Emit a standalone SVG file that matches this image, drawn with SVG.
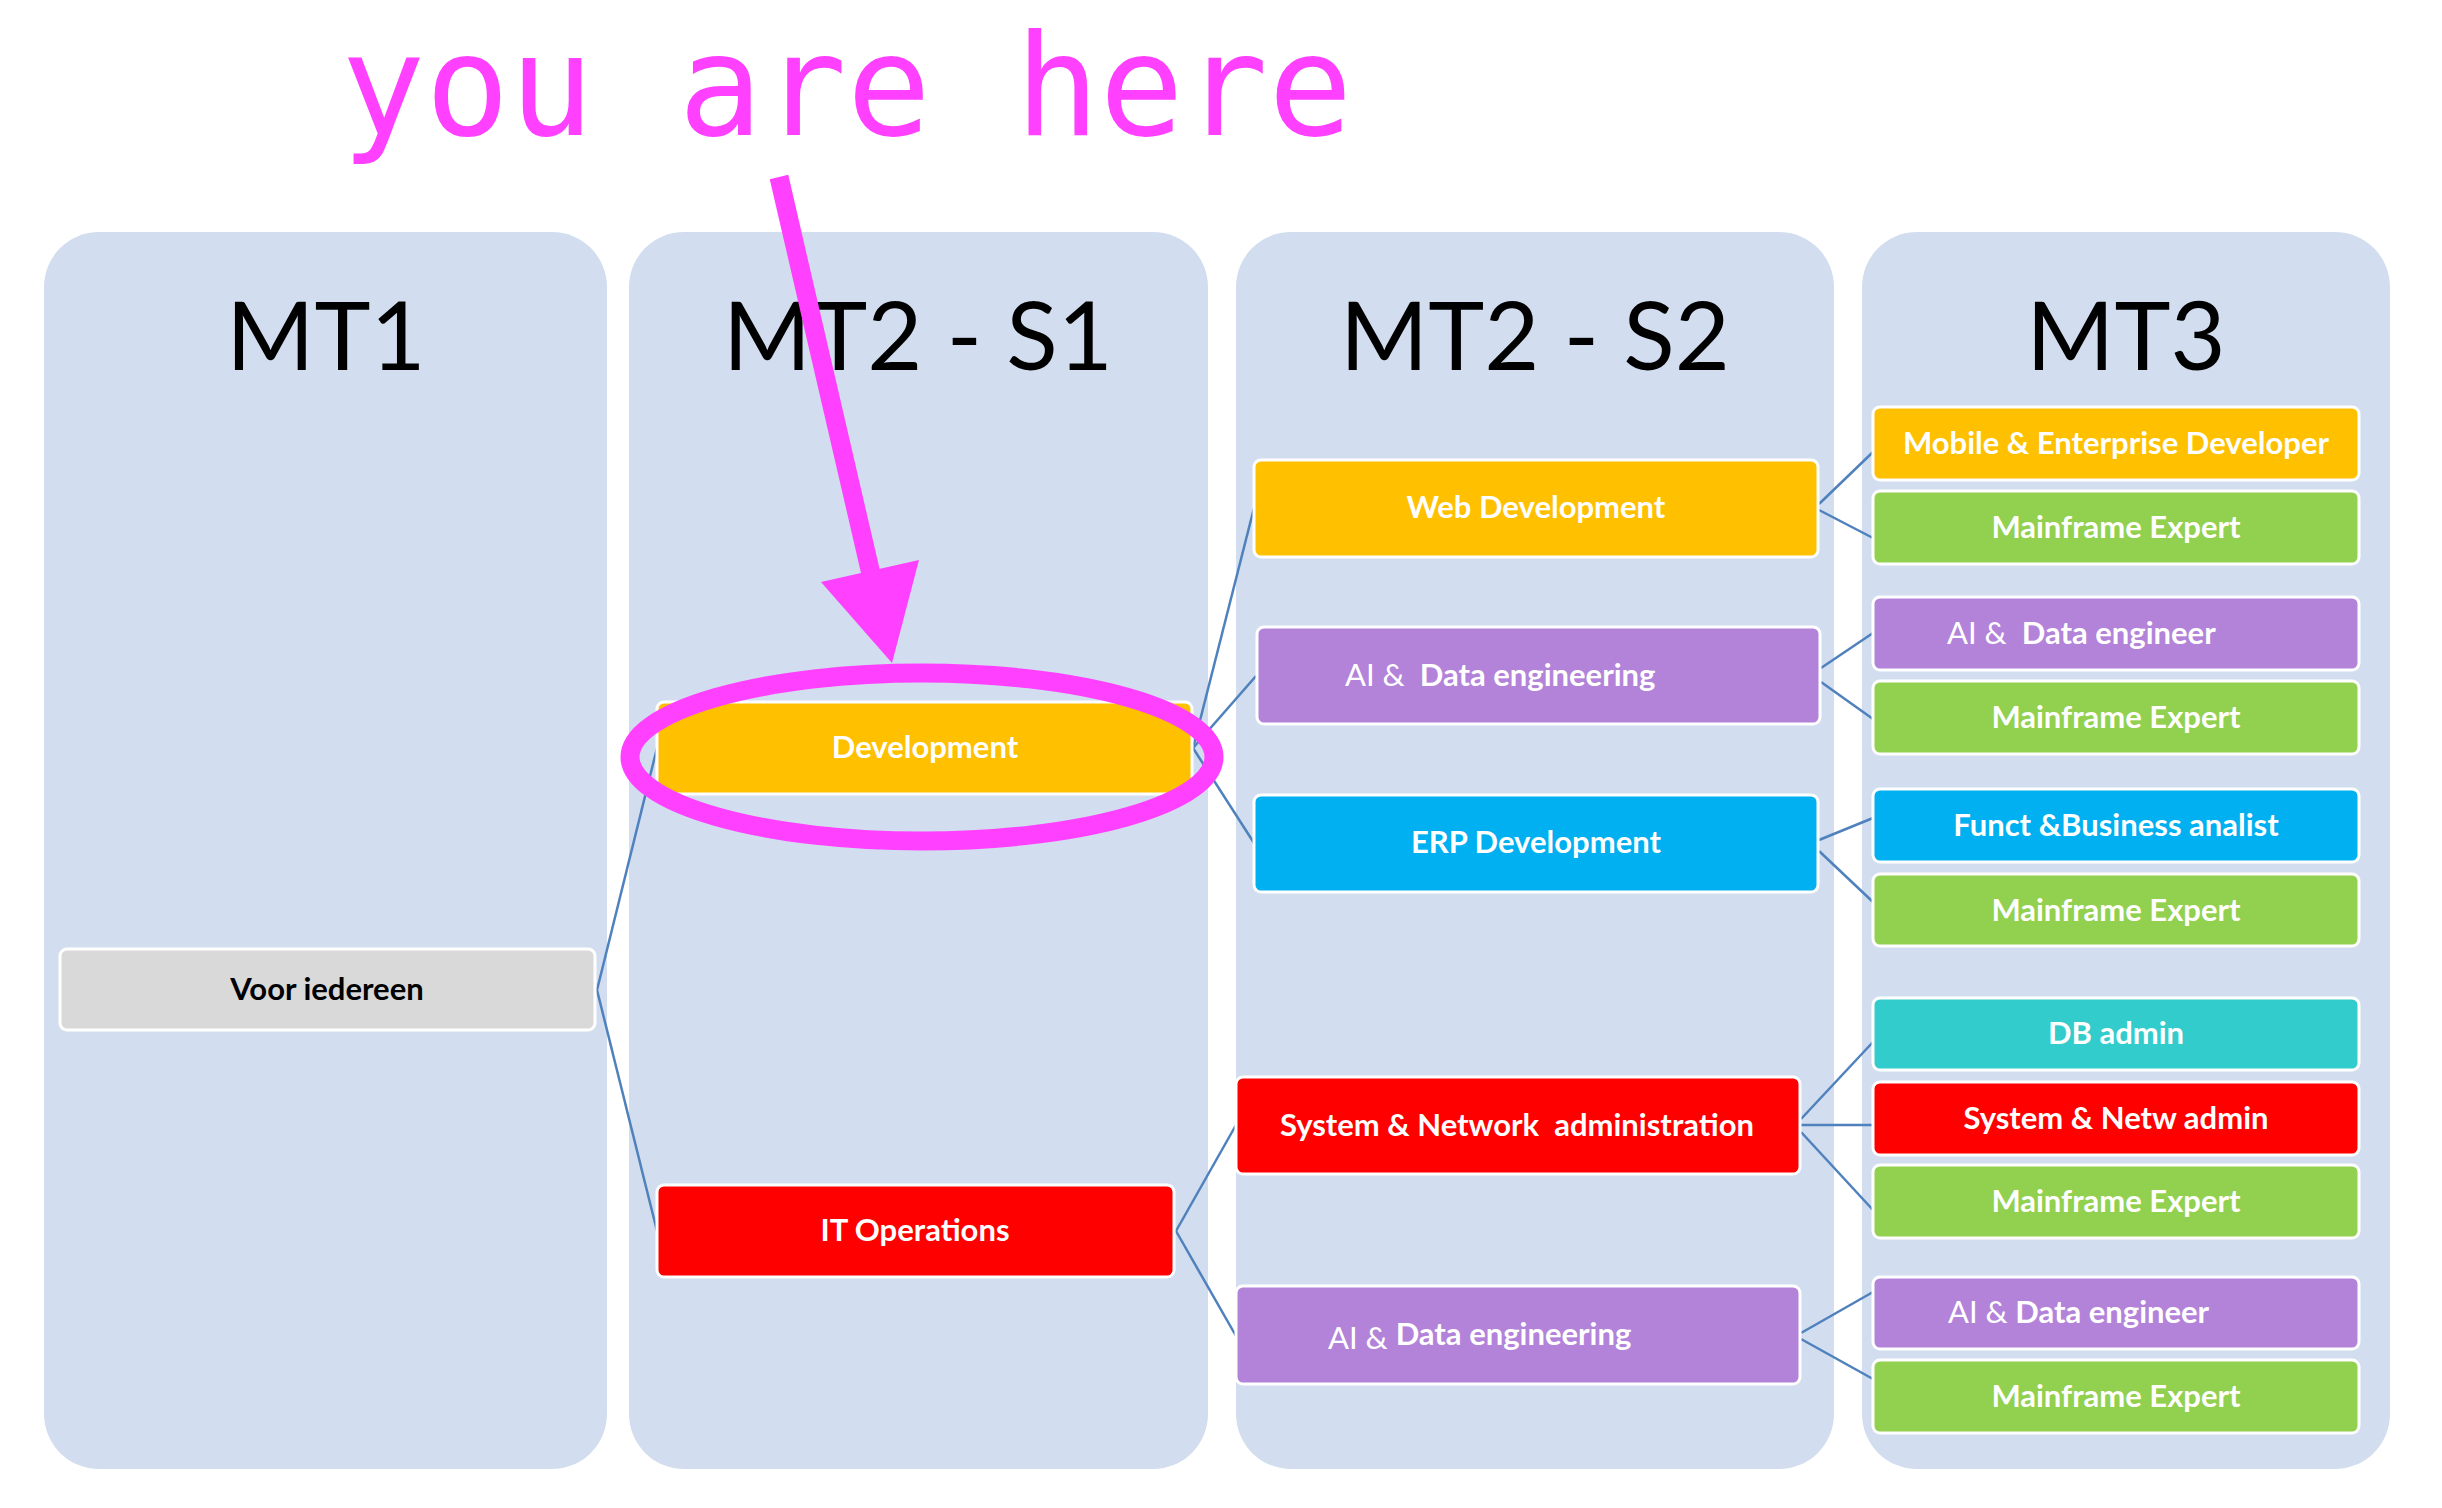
<svg xmlns="http://www.w3.org/2000/svg" width="2442" height="1508" viewBox="0 0 2442 1508">
<style>
.col{fill:#D2DEEF}
.hdr{font-family:Lato,"Liberation Sans",sans-serif;font-size:95px;fill:#000;text-anchor:middle}
.n{stroke:#FFFFFF;stroke-width:3}
.t{font-family:Lato,"Liberation Sans",sans-serif;font-size:31px;font-weight:bold;fill:#FFFFFF;text-anchor:middle;white-space:pre}
.ts{font-family:Lato,"Liberation Sans",sans-serif;font-size:31px;font-weight:bold;fill:#FFFFFF;white-space:pre}
.reg{font-weight:normal}
.c line{stroke:#4F81BD;stroke-width:2.5}
.or{fill:#FFC000}.pu{fill:#B383DA}.gr{fill:#92D050}.bl{fill:#00B0F0}.rd{fill:#FF0000}.te{fill:#33CCCC}.gy{fill:#D9D9D9}
</style>
<g id="columns">
<rect class="col" x="44" y="232" width="563" height="1237" rx="55"/>
<rect class="col" x="629" y="232" width="579" height="1237" rx="55"/>
<rect class="col" x="1236" y="232" width="598" height="1237" rx="55"/>
<rect class="col" x="1862" y="232" width="528" height="1237" rx="55"/>
<text class="hdr" x="326" y="370">MT1</text>
<text class="hdr" x="918" y="370">MT2 - S1</text>
<text class="hdr" x="1535" y="370">MT2 - S2</text>
<text class="hdr" x="2126" y="370">MT3</text>
</g>
<g id="connectors" class="c">
<line x1="597" y1="990" x2="657" y2="748"/>
<line x1="597" y1="990" x2="657" y2="1231"/>
<line x1="1193" y1="748" x2="1254" y2="508"/>
<line x1="1193" y1="748" x2="1256" y2="676"/>
<line x1="1193" y1="748" x2="1254" y2="843"/>
<line x1="1819" y1="504" x2="1873" y2="452"/>
<line x1="1819" y1="510" x2="1873" y2="538"/>
<line x1="1821" y1="668" x2="1873" y2="633"/>
<line x1="1821" y1="682" x2="1873" y2="719"/>
<line x1="1819" y1="840" x2="1873" y2="818"/>
<line x1="1819" y1="851" x2="1873" y2="902"/>
<line x1="1176" y1="1231" x2="1236" y2="1125"/>
<line x1="1176" y1="1231" x2="1236" y2="1336"/>
<line x1="1801" y1="1119" x2="1873" y2="1042"/>
<line x1="1801" y1="1125" x2="1873" y2="1125"/>
<line x1="1801" y1="1132" x2="1873" y2="1210"/>
<line x1="1801" y1="1333" x2="1873" y2="1292"/>
<line x1="1801" y1="1339" x2="1873" y2="1379"/>
</g>
<g id="voor"><rect class="n gy" x="60" y="949" width="535" height="81" rx="7"/><text class="t" x="327" y="1000" style="fill:#000">Voor iedereen</text></g>
<g id="development"><rect class="n or" x="657" y="702" width="535" height="92" rx="7"/><text class="t" x="925" y="758">Development</text></g>
<g id="itops"><rect class="n rd" x="657" y="1185" width="517" height="92" rx="7"/><text class="t" x="915" y="1241">IT Operations</text></g>
<g id="webdev"><rect class="n or" x="1254" y="460" width="564" height="97" rx="7"/><text class="t" x="1536" y="518">Web Development</text></g>
<g id="aide1"><rect class="n pu" x="1257" y="627" width="563" height="97" rx="7"/><text class="ts" x="1345" y="686" xml:space="preserve"><tspan class="reg">AI &amp;</tspan>  Data engineering</text></g>
<g id="erpdev"><rect class="n bl" x="1254" y="795" width="564" height="97" rx="7"/><text class="t" x="1536" y="853">ERP Development</text></g>
<g id="sysnet"><rect class="n rd" x="1236" y="1077" width="564" height="97" rx="7"/><text class="t" x="1517" y="1136" xml:space="preserve">System &amp; Network  administration</text></g>
<g id="aide2"><rect class="n pu" x="1236" y="1286" width="564" height="98" rx="7"/><text class="ts" x="1328" y="1349" xml:space="preserve"><tspan class="reg">AI &amp; </tspan><tspan dy="-4">Data engineering</tspan></text></g>
<g id="mobile"><rect class="n or" x="1873" y="407" width="486" height="73" rx="7"/><text class="t" x="2116" y="454">Mobile &amp; Enterprise Developer</text></g>
<g id="mf1"><rect class="n gr" x="1873" y="491" width="486" height="73" rx="7"/><text class="t" x="2116" y="538">Mainframe Expert</text></g>
<g id="aieng1"><rect class="n pu" x="1873" y="597" width="486" height="73" rx="7"/><text class="ts" x="1947" y="644" xml:space="preserve"><tspan class="reg">AI &amp;</tspan>  Data engineer</text></g>
<g id="mf2"><rect class="n gr" x="1873" y="681" width="486" height="73" rx="7"/><text class="t" x="2116" y="728">Mainframe Expert</text></g>
<g id="funct"><rect class="n bl" x="1873" y="789" width="486" height="73" rx="7"/><text class="t" x="2116" y="836">Funct &amp;Business analist</text></g>
<g id="mf3"><rect class="n gr" x="1873" y="874" width="486" height="72" rx="7"/><text class="t" x="2116" y="921">Mainframe Expert</text></g>
<g id="dbadmin"><rect class="n te" x="1873" y="998" width="486" height="72" rx="7"/><text class="t" x="2116" y="1044">DB admin</text></g>
<g id="sysnetw"><rect class="n rd" x="1873" y="1082" width="486" height="73" rx="7"/><text class="t" x="2116" y="1129">System &amp; Netw admin</text></g>
<g id="mf4"><rect class="n gr" x="1873" y="1165" width="486" height="73" rx="7"/><text class="t" x="2116" y="1212">Mainframe Expert</text></g>
<g id="aieng2"><rect class="n pu" x="1873" y="1277" width="486" height="72" rx="7"/><text class="ts" x="1948" y="1323" xml:space="preserve"><tspan class="reg">AI &amp;</tspan> Data engineer</text></g>
<g id="mf5"><rect class="n gr" x="1873" y="1360" width="486" height="73" rx="7"/><text class="t" x="2116" y="1407">Mainframe Expert</text></g>
<g id="annotation">
<text x="341" y="135" font-family="'DejaVu Sans Mono',monospace" font-size="140" fill="#FF40FF">you are here</text>
<line x1="779" y1="177" x2="871" y2="574" stroke="#FF40FF" stroke-width="19"/>
<polygon points="821,582 919,560 892,663" fill="#FF40FF"/>
<ellipse cx="922" cy="757" rx="292" ry="84" fill="none" stroke="#FF40FF" stroke-width="19"/>
</g>
</svg>
